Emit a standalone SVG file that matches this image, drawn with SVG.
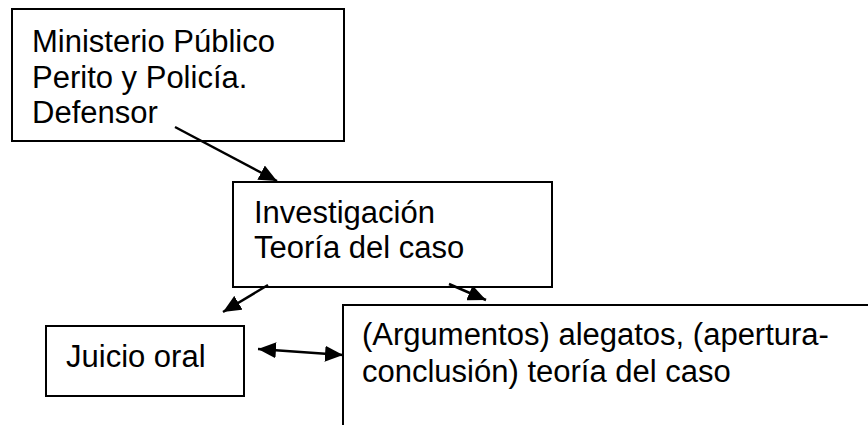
<svg xmlns="http://www.w3.org/2000/svg" width="868" height="425" viewBox="0 0 868 425">
<defs>
<style>
.box{fill:#fff;stroke:#000;stroke-width:2}
.t{font-family:"Liberation Sans",Arial,sans-serif;font-size:31px;fill:#000}
.c{stroke:#000;stroke-width:2.5;fill:none}
</style>
<marker id="ahb" viewBox="0 0 18 16" refX="18" refY="8" markerWidth="18" markerHeight="16" markerUnits="userSpaceOnUse" orient="auto-start-reverse">
<path d="M0,0 L18,8 L0,16 z" fill="#000"/>
</marker>
</defs>
<rect width="868" height="425" fill="#fff"/>
<g id="n1">
<rect class="box" x="12" y="9" width="332" height="132"/>
<text class="t" x="32" y="52">Ministerio Público</text>
<text class="t" x="32" y="88">Perito y Policía.</text>
<text class="t" x="32" y="123">Defensor</text>
</g>
<g id="n2">
<rect class="box" x="233" y="182" width="319" height="105"/>
<text class="t" x="254" y="223">Investigación</text>
<text class="t" x="254" y="258">Teoría del caso</text>
</g>
<g id="n3">
<rect class="box" x="46" y="326" width="198" height="70"/>
<text class="t" x="66" y="367">Juicio oral</text>
</g>
<g id="n4">
<path class="box" d="M343,430 L343,305 L880,305"/>
<text class="t" x="362" y="345">(Argumentos) alegatos, (apertura-</text>
<text class="t" x="362" y="382">conclusión) teoría del caso</text>
</g>
<g id="connectors">
<line class="c" x1="175" y1="127" x2="277" y2="181" marker-end="url(#ahb)"/>
<line class="c" x1="268" y1="285" x2="223" y2="312" marker-end="url(#ahb)"/>
<line class="c" x1="449" y1="284" x2="486" y2="300" marker-end="url(#ahb)"/>
<line class="c" x1="258" y1="349" x2="343" y2="355" marker-start="url(#ahb)" marker-end="url(#ahb)"/>
</g>
</svg>
